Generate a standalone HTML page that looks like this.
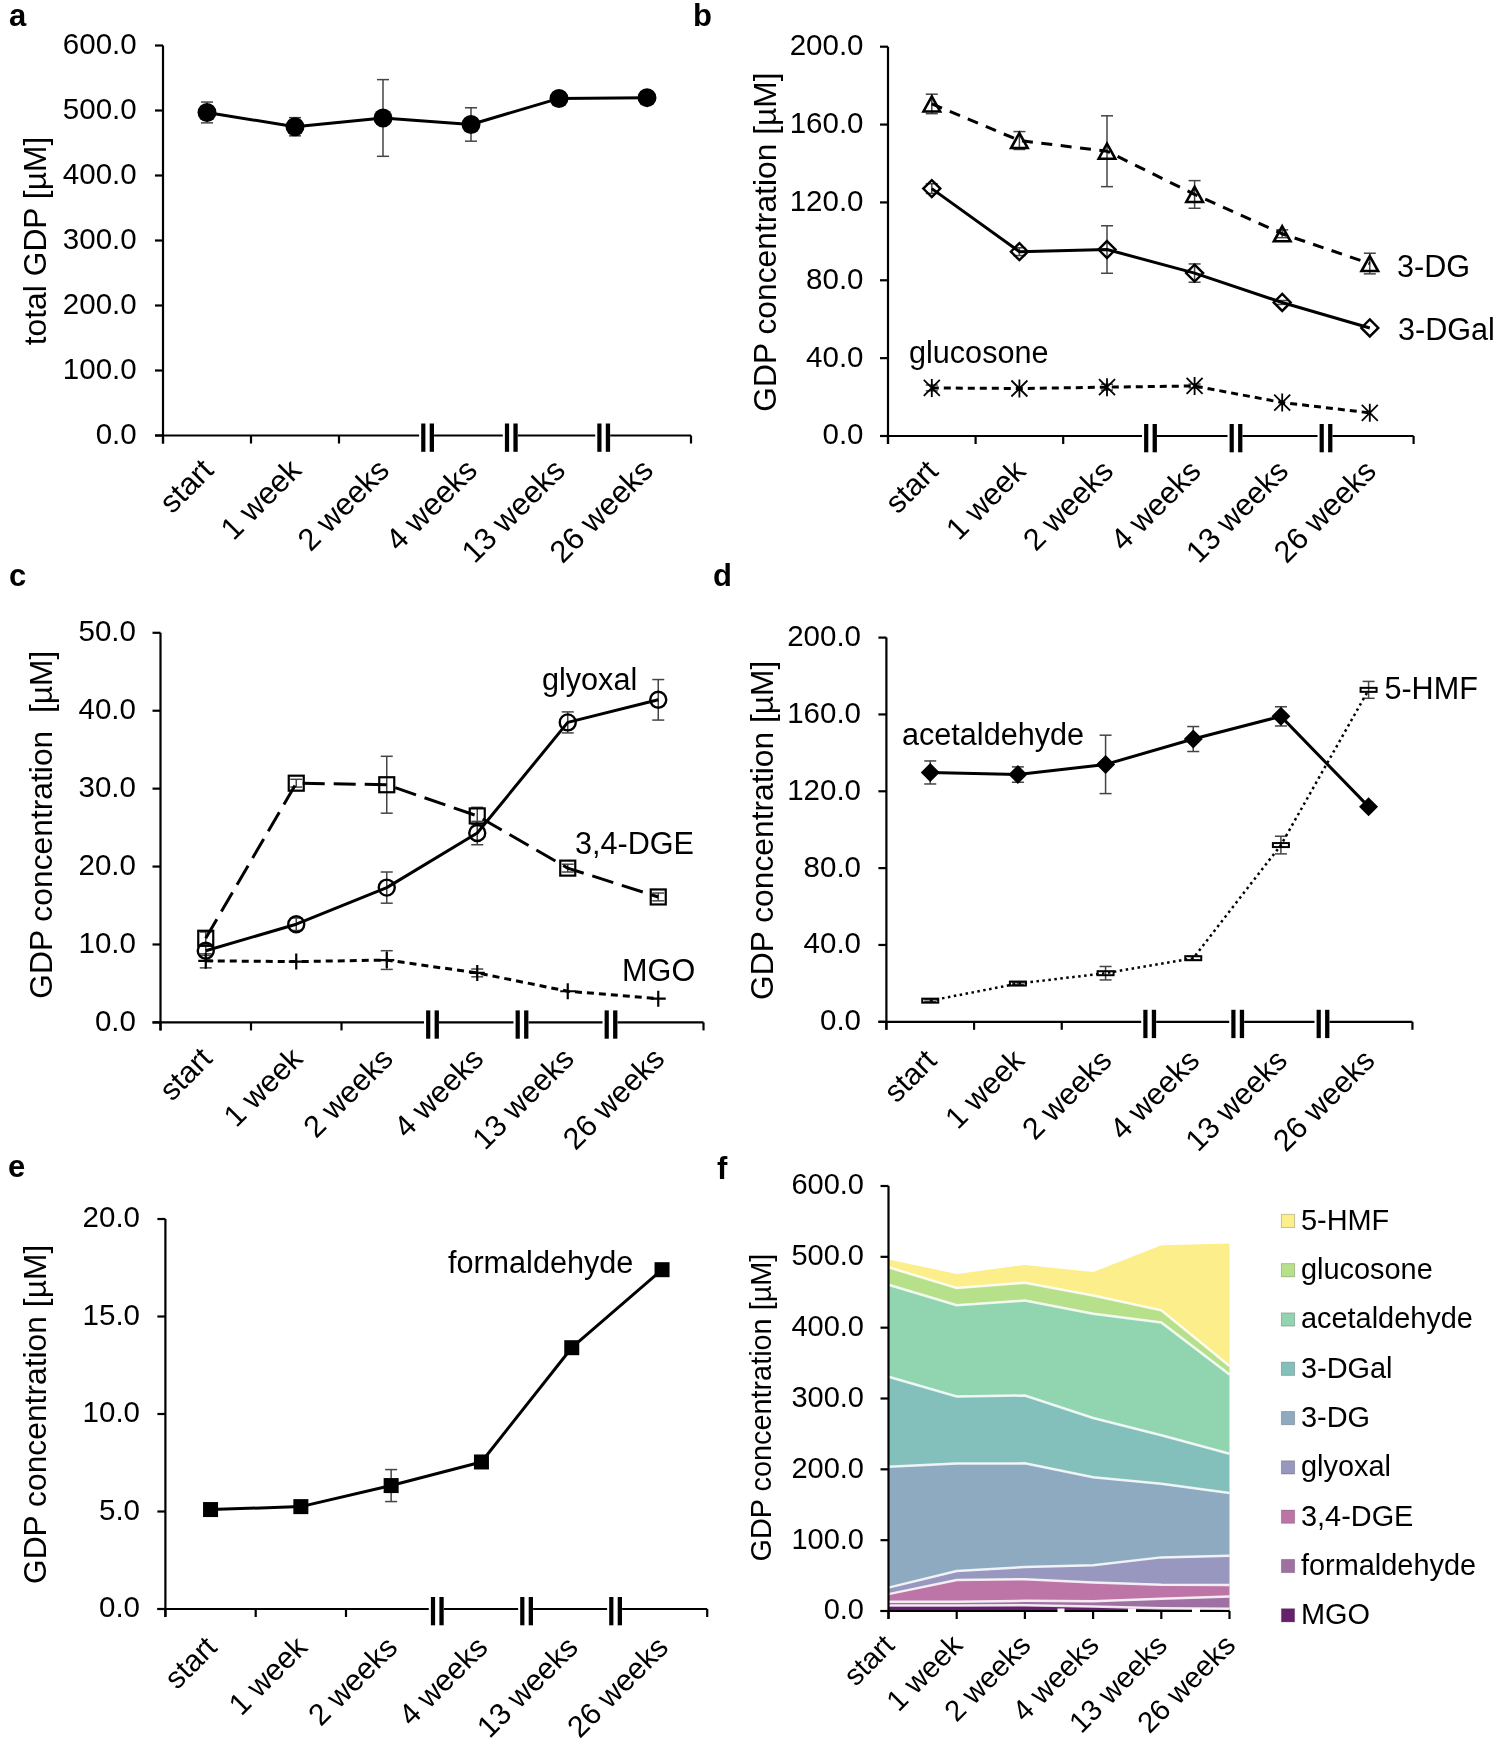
<!DOCTYPE html>
<html><head><meta charset="utf-8"><style>
html,body{margin:0;padding:0;background:#fff;}
svg{display:block;will-change:transform;}
text{font-family:"Liberation Sans",sans-serif;fill:#000;}
.t{font-size:30.6px;}
.tk{font-size:29.5px;}
.xl{font-size:31px;}
.lg{font-size:28.9px;}
.yt{font-size:31.8px;}
.pl{font-size:31px;font-weight:bold;}
.ax{stroke:#000;stroke-width:2.2;}
</style></head><body>
<svg width="1499" height="1744" viewBox="0 0 1499 1744">
<rect width="1499" height="1744" fill="#fff"/>
<line x1="163" y1="45.5" x2="163" y2="443.5" class="ax"/>
<line x1="155" y1="435.5" x2="163" y2="435.5" class="ax"/>
<text x="136.7" y="443.9" text-anchor="end" class="tk" style="font-size:29.5px">0.0</text>
<line x1="155" y1="370.5" x2="163" y2="370.5" class="ax"/>
<text x="136.7" y="378.9" text-anchor="end" class="tk" style="font-size:29.5px">100.0</text>
<line x1="155" y1="305.5" x2="163" y2="305.5" class="ax"/>
<text x="136.7" y="313.9" text-anchor="end" class="tk" style="font-size:29.5px">200.0</text>
<line x1="155" y1="240.5" x2="163" y2="240.5" class="ax"/>
<text x="136.7" y="248.9" text-anchor="end" class="tk" style="font-size:29.5px">300.0</text>
<line x1="155" y1="175.5" x2="163" y2="175.5" class="ax"/>
<text x="136.7" y="183.9" text-anchor="end" class="tk" style="font-size:29.5px">400.0</text>
<line x1="155" y1="110.5" x2="163" y2="110.5" class="ax"/>
<text x="136.7" y="118.9" text-anchor="end" class="tk" style="font-size:29.5px">500.0</text>
<line x1="155" y1="45.5" x2="163" y2="45.5" class="ax"/>
<text x="136.7" y="53.9" text-anchor="end" class="tk" style="font-size:29.5px">600.0</text>
<line x1="155" y1="435.5" x2="691" y2="435.5" class="ax"/>
<line x1="163" y1="435.5" x2="163" y2="443.5" class="ax"/>
<line x1="251" y1="435.5" x2="251" y2="443.5" class="ax"/>
<line x1="339" y1="435.5" x2="339" y2="443.5" class="ax"/>
<line x1="427" y1="435.5" x2="427" y2="443.5" class="ax"/>
<line x1="515" y1="435.5" x2="515" y2="443.5" class="ax"/>
<line x1="603" y1="435.5" x2="603" y2="443.5" class="ax"/>
<line x1="691" y1="435.5" x2="691" y2="443.5" class="ax"/>
<text x="215" y="472" text-anchor="end" transform="rotate(-45 215 472)" class="xl" style="font-size:31px">start</text>
<text x="303" y="472" text-anchor="end" transform="rotate(-45 303 472)" class="xl" style="font-size:31px">1 week</text>
<text x="391" y="472" text-anchor="end" transform="rotate(-45 391 472)" class="xl" style="font-size:31px">2 weeks</text>
<text x="479" y="472" text-anchor="end" transform="rotate(-45 479 472)" class="xl" style="font-size:31px">4 weeks</text>
<text x="567" y="472" text-anchor="end" transform="rotate(-45 567 472)" class="xl" style="font-size:31px">13 weeks</text>
<text x="655" y="472" text-anchor="end" transform="rotate(-45 655 472)" class="xl" style="font-size:31px">26 weeks</text>
<rect x="419.1" y="433.5" width="15" height="12" fill="#fff"/>
<rect x="421.2" y="423.5" width="4.2" height="28.3" fill="#000"/>
<rect x="429.7" y="423.5" width="4.3" height="28.3" fill="#000"/>
<rect x="502.8" y="433.5" width="15" height="12" fill="#fff"/>
<rect x="504.9" y="423.5" width="4.2" height="28.3" fill="#000"/>
<rect x="513.4" y="423.5" width="4.3" height="28.3" fill="#000"/>
<rect x="595.2" y="433.5" width="15" height="12" fill="#fff"/>
<rect x="597.3" y="423.5" width="4.2" height="28.3" fill="#000"/>
<rect x="605.8" y="423.5" width="4.3" height="28.3" fill="#000"/>
<text x="45.9" y="241" text-anchor="middle" transform="rotate(-90 45.9 241)" class="yt" style="font-size:31.8px">total GDP [µM]</text>
<text x="9" y="26" class="pl">a</text>
<line x1="207" y1="102.05" x2="207" y2="122.85" stroke="#444" stroke-width="1.5"/>
<line x1="201" y1="102.05" x2="213" y2="102.05" stroke="#444" stroke-width="1.5"/>
<line x1="201" y1="122.85" x2="213" y2="122.85" stroke="#444" stroke-width="1.5"/>
<line x1="295" y1="117.65" x2="295" y2="135.85" stroke="#444" stroke-width="1.5"/>
<line x1="289" y1="117.65" x2="301" y2="117.65" stroke="#444" stroke-width="1.5"/>
<line x1="289" y1="135.85" x2="301" y2="135.85" stroke="#444" stroke-width="1.5"/>
<line x1="383" y1="79.62" x2="383" y2="156.32" stroke="#444" stroke-width="1.5"/>
<line x1="377" y1="79.62" x2="389" y2="79.62" stroke="#444" stroke-width="1.5"/>
<line x1="377" y1="156.32" x2="389" y2="156.32" stroke="#444" stroke-width="1.5"/>
<line x1="471" y1="107.77" x2="471" y2="141.18" stroke="#444" stroke-width="1.5"/>
<line x1="465" y1="107.77" x2="477" y2="107.77" stroke="#444" stroke-width="1.5"/>
<line x1="465" y1="141.18" x2="477" y2="141.18" stroke="#444" stroke-width="1.5"/>
<polyline points="207,112.45 295,126.75 383,117.97 471,124.47 559,98.41 647,97.63" fill="none" stroke="#000" stroke-width="3" stroke-linejoin="round"/>
<circle cx="207" cy="112.45" r="9.5" fill="#000"/>
<circle cx="295" cy="126.75" r="9.5" fill="#000"/>
<circle cx="383" cy="117.97" r="9.5" fill="#000"/>
<circle cx="471" cy="124.47" r="9.5" fill="#000"/>
<circle cx="559" cy="98.41" r="9.5" fill="#000"/>
<circle cx="647" cy="97.63" r="9.5" fill="#000"/>
<line x1="888" y1="46.7" x2="888" y2="444" class="ax"/>
<line x1="880" y1="436" x2="888" y2="436" class="ax"/>
<text x="863.5" y="444.4" text-anchor="end" class="tk" style="font-size:29.5px">0.0</text>
<line x1="880" y1="358.14" x2="888" y2="358.14" class="ax"/>
<text x="863.5" y="366.54" text-anchor="end" class="tk" style="font-size:29.5px">40.0</text>
<line x1="880" y1="280.28" x2="888" y2="280.28" class="ax"/>
<text x="863.5" y="288.68" text-anchor="end" class="tk" style="font-size:29.5px">80.0</text>
<line x1="880" y1="202.42" x2="888" y2="202.42" class="ax"/>
<text x="863.5" y="210.82" text-anchor="end" class="tk" style="font-size:29.5px">120.0</text>
<line x1="880" y1="124.56" x2="888" y2="124.56" class="ax"/>
<text x="863.5" y="132.96" text-anchor="end" class="tk" style="font-size:29.5px">160.0</text>
<line x1="880" y1="46.7" x2="888" y2="46.7" class="ax"/>
<text x="863.5" y="55.1" text-anchor="end" class="tk" style="font-size:29.5px">200.0</text>
<line x1="880" y1="436" x2="1413.6" y2="436" class="ax"/>
<line x1="888" y1="436" x2="888" y2="444" class="ax"/>
<line x1="975.6" y1="436" x2="975.6" y2="444" class="ax"/>
<line x1="1063.2" y1="436" x2="1063.2" y2="444" class="ax"/>
<line x1="1150.8" y1="436" x2="1150.8" y2="444" class="ax"/>
<line x1="1238.4" y1="436" x2="1238.4" y2="444" class="ax"/>
<line x1="1326" y1="436" x2="1326" y2="444" class="ax"/>
<line x1="1413.6" y1="436" x2="1413.6" y2="444" class="ax"/>
<text x="939.8" y="473" text-anchor="end" transform="rotate(-45 939.8 473)" class="xl" style="font-size:30.6px">start</text>
<text x="1027.4" y="473" text-anchor="end" transform="rotate(-45 1027.4 473)" class="xl" style="font-size:30.6px">1 week</text>
<text x="1115" y="473" text-anchor="end" transform="rotate(-45 1115 473)" class="xl" style="font-size:30.6px">2 weeks</text>
<text x="1202.6" y="473" text-anchor="end" transform="rotate(-45 1202.6 473)" class="xl" style="font-size:30.6px">4 weeks</text>
<text x="1290.2" y="473" text-anchor="end" transform="rotate(-45 1290.2 473)" class="xl" style="font-size:30.6px">13 weeks</text>
<text x="1377.8" y="473" text-anchor="end" transform="rotate(-45 1377.8 473)" class="xl" style="font-size:30.6px">26 weeks</text>
<rect x="1142" y="434" width="15" height="12" fill="#fff"/>
<rect x="1144.1" y="424" width="4.2" height="28.3" fill="#000"/>
<rect x="1152.6" y="424" width="4.3" height="28.3" fill="#000"/>
<rect x="1227.5" y="434" width="15" height="12" fill="#fff"/>
<rect x="1229.6" y="424" width="4.2" height="28.3" fill="#000"/>
<rect x="1238.1" y="424" width="4.3" height="28.3" fill="#000"/>
<rect x="1317.5" y="434" width="15" height="12" fill="#fff"/>
<rect x="1319.6" y="424" width="4.2" height="28.3" fill="#000"/>
<rect x="1328.1" y="424" width="4.3" height="28.3" fill="#000"/>
<text x="775.8" y="242" text-anchor="middle" transform="rotate(-90 775.8 242)" class="yt" style="font-size:31.8px">GDP concentration [µM]</text>
<text x="693" y="26" class="pl">b</text>
<line x1="931.8" y1="94.19" x2="931.8" y2="113.66" stroke="#444" stroke-width="1.5"/>
<line x1="925.8" y1="94.19" x2="937.8" y2="94.19" stroke="#444" stroke-width="1.5"/>
<line x1="925.8" y1="113.66" x2="937.8" y2="113.66" stroke="#444" stroke-width="1.5"/>
<line x1="1019.4" y1="131.57" x2="1019.4" y2="149.48" stroke="#444" stroke-width="1.5"/>
<line x1="1013.4" y1="131.57" x2="1025.4" y2="131.57" stroke="#444" stroke-width="1.5"/>
<line x1="1013.4" y1="149.48" x2="1025.4" y2="149.48" stroke="#444" stroke-width="1.5"/>
<line x1="1107" y1="115.8" x2="1107" y2="186.65" stroke="#444" stroke-width="1.5"/>
<line x1="1101" y1="115.8" x2="1113" y2="115.8" stroke="#444" stroke-width="1.5"/>
<line x1="1101" y1="186.65" x2="1113" y2="186.65" stroke="#444" stroke-width="1.5"/>
<line x1="1194.6" y1="180.62" x2="1194.6" y2="208.26" stroke="#444" stroke-width="1.5"/>
<line x1="1188.6" y1="180.62" x2="1200.6" y2="180.62" stroke="#444" stroke-width="1.5"/>
<line x1="1188.6" y1="208.26" x2="1200.6" y2="208.26" stroke="#444" stroke-width="1.5"/>
<line x1="1282.2" y1="229.87" x2="1282.2" y2="237.65" stroke="#444" stroke-width="1.5"/>
<line x1="1276.2" y1="229.87" x2="1288.2" y2="229.87" stroke="#444" stroke-width="1.5"/>
<line x1="1276.2" y1="237.65" x2="1288.2" y2="237.65" stroke="#444" stroke-width="1.5"/>
<line x1="1369.8" y1="253.22" x2="1369.8" y2="273.86" stroke="#444" stroke-width="1.5"/>
<line x1="1363.8" y1="253.22" x2="1375.8" y2="253.22" stroke="#444" stroke-width="1.5"/>
<line x1="1363.8" y1="273.86" x2="1375.8" y2="273.86" stroke="#444" stroke-width="1.5"/>
<line x1="931.8" y1="183.73" x2="931.8" y2="193.47" stroke="#444" stroke-width="1.5"/>
<line x1="925.8" y1="183.73" x2="937.8" y2="183.73" stroke="#444" stroke-width="1.5"/>
<line x1="925.8" y1="193.47" x2="937.8" y2="193.47" stroke="#444" stroke-width="1.5"/>
<line x1="1019.4" y1="247.77" x2="1019.4" y2="255.56" stroke="#444" stroke-width="1.5"/>
<line x1="1013.4" y1="247.77" x2="1025.4" y2="247.77" stroke="#444" stroke-width="1.5"/>
<line x1="1013.4" y1="255.56" x2="1025.4" y2="255.56" stroke="#444" stroke-width="1.5"/>
<line x1="1107" y1="225.78" x2="1107" y2="273.27" stroke="#444" stroke-width="1.5"/>
<line x1="1101" y1="225.78" x2="1113" y2="225.78" stroke="#444" stroke-width="1.5"/>
<line x1="1101" y1="273.27" x2="1113" y2="273.27" stroke="#444" stroke-width="1.5"/>
<line x1="1194.6" y1="263.93" x2="1194.6" y2="282.23" stroke="#444" stroke-width="1.5"/>
<line x1="1188.6" y1="263.93" x2="1200.6" y2="263.93" stroke="#444" stroke-width="1.5"/>
<line x1="1188.6" y1="282.23" x2="1200.6" y2="282.23" stroke="#444" stroke-width="1.5"/>
<line x1="1282.2" y1="300.52" x2="1282.2" y2="304.42" stroke="#444" stroke-width="1.5"/>
<line x1="1276.2" y1="300.52" x2="1288.2" y2="300.52" stroke="#444" stroke-width="1.5"/>
<line x1="1276.2" y1="304.42" x2="1288.2" y2="304.42" stroke="#444" stroke-width="1.5"/>
<line x1="931.8" y1="385" x2="931.8" y2="390.84" stroke="#444" stroke-width="1.5"/>
<line x1="925.8" y1="385" x2="937.8" y2="385" stroke="#444" stroke-width="1.5"/>
<line x1="925.8" y1="390.84" x2="937.8" y2="390.84" stroke="#444" stroke-width="1.5"/>
<line x1="1107" y1="384.22" x2="1107" y2="390.06" stroke="#444" stroke-width="1.5"/>
<line x1="1101" y1="384.22" x2="1113" y2="384.22" stroke="#444" stroke-width="1.5"/>
<line x1="1101" y1="390.06" x2="1113" y2="390.06" stroke="#444" stroke-width="1.5"/>
<line x1="1194.6" y1="384.03" x2="1194.6" y2="387.92" stroke="#444" stroke-width="1.5"/>
<line x1="1188.6" y1="384.03" x2="1200.6" y2="384.03" stroke="#444" stroke-width="1.5"/>
<line x1="1188.6" y1="387.92" x2="1200.6" y2="387.92" stroke="#444" stroke-width="1.5"/>
<polyline points="931.8,103.93 1019.4,140.52 1107,151.23 1194.6,194.44 1282.2,233.76 1369.8,263.54" fill="none" stroke="#000" stroke-width="3" stroke-dasharray="11 8.5" stroke-linejoin="round"/>
<polyline points="931.8,188.6 1019.4,251.67 1107,249.53 1194.6,273.08 1282.2,302.47 1369.8,327.97" fill="none" stroke="#000" stroke-width="3" stroke-linejoin="round"/>
<polyline points="931.8,387.92 1019.4,388.51 1107,387.14 1194.6,385.97 1282.2,402.52 1369.8,412.84" fill="none" stroke="#000" stroke-width="3" stroke-dasharray="7 5" stroke-linejoin="round"/>
<path d="M931.8,96.43 L940.1,111.43 L923.5,111.43 Z" fill="none" stroke="#000" stroke-width="2.6" stroke-linejoin="miter"/>
<path d="M1019.4,133.02 L1027.7,148.02 L1011.1,148.02 Z" fill="none" stroke="#000" stroke-width="2.6" stroke-linejoin="miter"/>
<path d="M1107,143.73 L1115.3,158.73 L1098.7,158.73 Z" fill="none" stroke="#000" stroke-width="2.6" stroke-linejoin="miter"/>
<path d="M1194.6,186.94 L1202.9,201.94 L1186.3,201.94 Z" fill="none" stroke="#000" stroke-width="2.6" stroke-linejoin="miter"/>
<path d="M1282.2,226.26 L1290.5,241.26 L1273.9,241.26 Z" fill="none" stroke="#000" stroke-width="2.6" stroke-linejoin="miter"/>
<path d="M1369.8,256.04 L1378.1,271.04 L1361.5,271.04 Z" fill="none" stroke="#000" stroke-width="2.6" stroke-linejoin="miter"/>
<path d="M931.8,180.1 L940.3,188.6 L931.8,197.1 L923.3,188.6 Z" fill="none" stroke="#000" stroke-width="2.4"/>
<path d="M1019.4,243.17 L1027.9,251.67 L1019.4,260.17 L1010.9,251.67 Z" fill="none" stroke="#000" stroke-width="2.4"/>
<path d="M1107,241.03 L1115.5,249.53 L1107,258.03 L1098.5,249.53 Z" fill="none" stroke="#000" stroke-width="2.4"/>
<path d="M1194.6,264.58 L1203.1,273.08 L1194.6,281.58 L1186.1,273.08 Z" fill="none" stroke="#000" stroke-width="2.4"/>
<path d="M1282.2,293.97 L1290.7,302.47 L1282.2,310.97 L1273.7,302.47 Z" fill="none" stroke="#000" stroke-width="2.4"/>
<path d="M1369.8,319.47 L1378.3,327.97 L1369.8,336.47 L1361.3,327.97 Z" fill="none" stroke="#000" stroke-width="2.4"/>
<path d="M923.8,379.92 L939.8,395.92 M939.8,379.92 L923.8,395.92 M931.8,378.92 L931.8,396.92" stroke="#000" stroke-width="1.8"/>
<path d="M1011.4,380.51 L1027.4,396.51 M1027.4,380.51 L1011.4,396.51 M1019.4,379.51 L1019.4,397.51" stroke="#000" stroke-width="1.8"/>
<path d="M1099,379.14 L1115,395.14 M1115,379.14 L1099,395.14 M1107,378.14 L1107,396.14" stroke="#000" stroke-width="1.8"/>
<path d="M1186.6,377.97 L1202.6,393.97 M1202.6,377.97 L1186.6,393.97 M1194.6,376.97 L1194.6,394.97" stroke="#000" stroke-width="1.8"/>
<path d="M1274.2,394.52 L1290.2,410.52 M1290.2,394.52 L1274.2,410.52 M1282.2,393.52 L1282.2,411.52" stroke="#000" stroke-width="1.8"/>
<path d="M1361.8,404.84 L1377.8,420.84 M1377.8,404.84 L1361.8,420.84 M1369.8,403.84 L1369.8,421.84" stroke="#000" stroke-width="1.8"/>
<text x="1397" y="276.5" text-anchor="start" class="t">3-DG</text>
<text x="1398" y="340.3" text-anchor="start" class="t">3-DGal</text>
<text x="909" y="363.4" text-anchor="start" class="t">glucosone</text>
<line x1="160.5" y1="632.8" x2="160.5" y2="1030.4" class="ax"/>
<line x1="152.5" y1="1022.4" x2="160.5" y2="1022.4" class="ax"/>
<text x="135.9" y="1030.8" text-anchor="end" class="tk" style="font-size:29.5px">0.0</text>
<line x1="152.5" y1="944.48" x2="160.5" y2="944.48" class="ax"/>
<text x="135.9" y="952.88" text-anchor="end" class="tk" style="font-size:29.5px">10.0</text>
<line x1="152.5" y1="866.56" x2="160.5" y2="866.56" class="ax"/>
<text x="135.9" y="874.96" text-anchor="end" class="tk" style="font-size:29.5px">20.0</text>
<line x1="152.5" y1="788.64" x2="160.5" y2="788.64" class="ax"/>
<text x="135.9" y="797.04" text-anchor="end" class="tk" style="font-size:29.5px">30.0</text>
<line x1="152.5" y1="710.72" x2="160.5" y2="710.72" class="ax"/>
<text x="135.9" y="719.12" text-anchor="end" class="tk" style="font-size:29.5px">40.0</text>
<line x1="152.5" y1="632.8" x2="160.5" y2="632.8" class="ax"/>
<text x="135.9" y="641.2" text-anchor="end" class="tk" style="font-size:29.5px">50.0</text>
<line x1="152.5" y1="1022.4" x2="703.5" y2="1022.4" class="ax"/>
<line x1="160.5" y1="1022.4" x2="160.5" y2="1030.4" class="ax"/>
<line x1="251" y1="1022.4" x2="251" y2="1030.4" class="ax"/>
<line x1="341.5" y1="1022.4" x2="341.5" y2="1030.4" class="ax"/>
<line x1="432" y1="1022.4" x2="432" y2="1030.4" class="ax"/>
<line x1="522.5" y1="1022.4" x2="522.5" y2="1030.4" class="ax"/>
<line x1="613" y1="1022.4" x2="613" y2="1030.4" class="ax"/>
<line x1="703.5" y1="1022.4" x2="703.5" y2="1030.4" class="ax"/>
<text x="213.75" y="1060.4" text-anchor="end" transform="rotate(-45 213.75 1060.4)" class="xl" style="font-size:30.4px">start</text>
<text x="304.25" y="1060.4" text-anchor="end" transform="rotate(-45 304.25 1060.4)" class="xl" style="font-size:30.4px">1 week</text>
<text x="394.75" y="1060.4" text-anchor="end" transform="rotate(-45 394.75 1060.4)" class="xl" style="font-size:30.4px">2 weeks</text>
<text x="485.25" y="1060.4" text-anchor="end" transform="rotate(-45 485.25 1060.4)" class="xl" style="font-size:30.4px">4 weeks</text>
<text x="575.75" y="1060.4" text-anchor="end" transform="rotate(-45 575.75 1060.4)" class="xl" style="font-size:30.4px">13 weeks</text>
<text x="666.25" y="1060.4" text-anchor="end" transform="rotate(-45 666.25 1060.4)" class="xl" style="font-size:30.4px">26 weeks</text>
<rect x="424" y="1020.4" width="15" height="12" fill="#fff"/>
<rect x="426.1" y="1010.4" width="4.2" height="28.3" fill="#000"/>
<rect x="434.6" y="1010.4" width="4.3" height="28.3" fill="#000"/>
<rect x="513.5" y="1020.4" width="15" height="12" fill="#fff"/>
<rect x="515.6" y="1010.4" width="4.2" height="28.3" fill="#000"/>
<rect x="524.1" y="1010.4" width="4.3" height="28.3" fill="#000"/>
<rect x="602.5" y="1020.4" width="15" height="12" fill="#fff"/>
<rect x="604.6" y="1010.4" width="4.2" height="28.3" fill="#000"/>
<rect x="613.1" y="1010.4" width="4.3" height="28.3" fill="#000"/>
<text x="51.8" y="824.7" text-anchor="middle" transform="rotate(-90 51.8 824.7)" class="yt" style="font-size:31.8px">GDP concentration&#160;&#160;[µM]</text>
<text x="9" y="586" class="pl">c</text>
<line x1="205.75" y1="946.04" x2="205.75" y2="955.39" stroke="#444" stroke-width="1.5"/>
<line x1="199.75" y1="946.04" x2="211.75" y2="946.04" stroke="#444" stroke-width="1.5"/>
<line x1="199.75" y1="955.39" x2="211.75" y2="955.39" stroke="#444" stroke-width="1.5"/>
<line x1="296.25" y1="917.99" x2="296.25" y2="930.45" stroke="#444" stroke-width="1.5"/>
<line x1="290.25" y1="917.99" x2="302.25" y2="917.99" stroke="#444" stroke-width="1.5"/>
<line x1="290.25" y1="930.45" x2="302.25" y2="930.45" stroke="#444" stroke-width="1.5"/>
<line x1="386.75" y1="872.01" x2="386.75" y2="903.18" stroke="#444" stroke-width="1.5"/>
<line x1="380.75" y1="872.01" x2="392.75" y2="872.01" stroke="#444" stroke-width="1.5"/>
<line x1="380.75" y1="903.18" x2="392.75" y2="903.18" stroke="#444" stroke-width="1.5"/>
<line x1="477.25" y1="821.37" x2="477.25" y2="844.74" stroke="#444" stroke-width="1.5"/>
<line x1="471.25" y1="821.37" x2="483.25" y2="821.37" stroke="#444" stroke-width="1.5"/>
<line x1="471.25" y1="844.74" x2="483.25" y2="844.74" stroke="#444" stroke-width="1.5"/>
<line x1="567.75" y1="711.89" x2="567.75" y2="732.93" stroke="#444" stroke-width="1.5"/>
<line x1="561.75" y1="711.89" x2="573.75" y2="711.89" stroke="#444" stroke-width="1.5"/>
<line x1="561.75" y1="732.93" x2="573.75" y2="732.93" stroke="#444" stroke-width="1.5"/>
<line x1="658.25" y1="679.55" x2="658.25" y2="720.07" stroke="#444" stroke-width="1.5"/>
<line x1="652.25" y1="679.55" x2="664.25" y2="679.55" stroke="#444" stroke-width="1.5"/>
<line x1="652.25" y1="720.07" x2="664.25" y2="720.07" stroke="#444" stroke-width="1.5"/>
<line x1="205.75" y1="932.01" x2="205.75" y2="944.48" stroke="#444" stroke-width="1.5"/>
<line x1="199.75" y1="932.01" x2="211.75" y2="932.01" stroke="#444" stroke-width="1.5"/>
<line x1="199.75" y1="944.48" x2="211.75" y2="944.48" stroke="#444" stroke-width="1.5"/>
<line x1="296.25" y1="779.29" x2="296.25" y2="787.08" stroke="#444" stroke-width="1.5"/>
<line x1="290.25" y1="779.29" x2="302.25" y2="779.29" stroke="#444" stroke-width="1.5"/>
<line x1="290.25" y1="787.08" x2="302.25" y2="787.08" stroke="#444" stroke-width="1.5"/>
<line x1="386.75" y1="756.3" x2="386.75" y2="813.18" stroke="#444" stroke-width="1.5"/>
<line x1="380.75" y1="756.3" x2="392.75" y2="756.3" stroke="#444" stroke-width="1.5"/>
<line x1="380.75" y1="813.18" x2="392.75" y2="813.18" stroke="#444" stroke-width="1.5"/>
<line x1="477.25" y1="807.34" x2="477.25" y2="824.48" stroke="#444" stroke-width="1.5"/>
<line x1="471.25" y1="807.34" x2="483.25" y2="807.34" stroke="#444" stroke-width="1.5"/>
<line x1="471.25" y1="824.48" x2="483.25" y2="824.48" stroke="#444" stroke-width="1.5"/>
<line x1="567.75" y1="864.22" x2="567.75" y2="872.01" stroke="#444" stroke-width="1.5"/>
<line x1="561.75" y1="864.22" x2="573.75" y2="864.22" stroke="#444" stroke-width="1.5"/>
<line x1="561.75" y1="872.01" x2="573.75" y2="872.01" stroke="#444" stroke-width="1.5"/>
<line x1="658.25" y1="893.05" x2="658.25" y2="900.84" stroke="#444" stroke-width="1.5"/>
<line x1="652.25" y1="893.05" x2="664.25" y2="893.05" stroke="#444" stroke-width="1.5"/>
<line x1="652.25" y1="900.84" x2="664.25" y2="900.84" stroke="#444" stroke-width="1.5"/>
<line x1="205.75" y1="953.83" x2="205.75" y2="967.86" stroke="#444" stroke-width="1.5"/>
<line x1="199.75" y1="953.83" x2="211.75" y2="953.83" stroke="#444" stroke-width="1.5"/>
<line x1="199.75" y1="967.86" x2="211.75" y2="967.86" stroke="#444" stroke-width="1.5"/>
<line x1="386.75" y1="950.71" x2="386.75" y2="969.41" stroke="#444" stroke-width="1.5"/>
<line x1="380.75" y1="950.71" x2="392.75" y2="950.71" stroke="#444" stroke-width="1.5"/>
<line x1="380.75" y1="969.41" x2="392.75" y2="969.41" stroke="#444" stroke-width="1.5"/>
<line x1="477.25" y1="969.02" x2="477.25" y2="976.82" stroke="#444" stroke-width="1.5"/>
<line x1="471.25" y1="969.02" x2="483.25" y2="969.02" stroke="#444" stroke-width="1.5"/>
<line x1="471.25" y1="976.82" x2="483.25" y2="976.82" stroke="#444" stroke-width="1.5"/>
<polyline points="205.75,950.71 296.25,924.22 386.75,887.6 477.25,833.05 567.75,722.41 658.25,699.81" fill="none" stroke="#000" stroke-width="3" stroke-linejoin="round"/>
<polyline points="205.75,938.25 296.25,783.19 386.75,784.74 477.25,815.91 567.75,868.12 658.25,896.95" fill="none" stroke="#000" stroke-width="3" stroke-dasharray="22 9" stroke-linejoin="round"/>
<polyline points="205.75,960.84 296.25,961.62 386.75,960.06 477.25,972.92 567.75,991.23 658.25,998.63" fill="none" stroke="#000" stroke-width="3" stroke-dasharray="7 5" stroke-linejoin="round"/>
<circle cx="205.75" cy="950.71" r="8" fill="none" stroke="#000" stroke-width="2.4"/>
<circle cx="296.25" cy="924.22" r="8" fill="none" stroke="#000" stroke-width="2.4"/>
<circle cx="386.75" cy="887.6" r="8" fill="none" stroke="#000" stroke-width="2.4"/>
<circle cx="477.25" cy="833.05" r="8" fill="none" stroke="#000" stroke-width="2.4"/>
<circle cx="567.75" cy="722.41" r="8" fill="none" stroke="#000" stroke-width="2.4"/>
<circle cx="658.25" cy="699.81" r="8" fill="none" stroke="#000" stroke-width="2.4"/>
<rect x="198.25" y="930.75" width="15" height="15" fill="none" stroke="#000" stroke-width="2.2"/>
<rect x="288.75" y="775.69" width="15" height="15" fill="none" stroke="#000" stroke-width="2.2"/>
<rect x="379.25" y="777.24" width="15" height="15" fill="none" stroke="#000" stroke-width="2.2"/>
<rect x="469.75" y="808.41" width="15" height="15" fill="none" stroke="#000" stroke-width="2.2"/>
<rect x="560.25" y="860.62" width="15" height="15" fill="none" stroke="#000" stroke-width="2.2"/>
<rect x="650.75" y="889.45" width="15" height="15" fill="none" stroke="#000" stroke-width="2.2"/>
<path d="M198.25,960.84 L213.25,960.84 M205.75,952.84 L205.75,968.84" stroke="#000" stroke-width="2.2"/>
<path d="M288.75,961.62 L303.75,961.62 M296.25,953.62 L296.25,969.62" stroke="#000" stroke-width="2.2"/>
<path d="M379.25,960.06 L394.25,960.06 M386.75,952.06 L386.75,968.06" stroke="#000" stroke-width="2.2"/>
<path d="M469.75,972.92 L484.75,972.92 M477.25,964.92 L477.25,980.92" stroke="#000" stroke-width="2.2"/>
<path d="M560.25,991.23 L575.25,991.23 M567.75,983.23 L567.75,999.23" stroke="#000" stroke-width="2.2"/>
<path d="M650.75,998.63 L665.75,998.63 M658.25,990.63 L658.25,1006.63" stroke="#000" stroke-width="2.2"/>
<text x="542" y="690" text-anchor="start" class="t">glyoxal</text>
<text x="575" y="854" text-anchor="start" class="t">3,4-DGE</text>
<text x="622.1" y="981" text-anchor="start" class="t">MGO</text>
<line x1="886.4" y1="637.6" x2="886.4" y2="1029.8" class="ax"/>
<line x1="878.4" y1="1021.8" x2="886.4" y2="1021.8" class="ax"/>
<text x="861" y="1030.2" text-anchor="end" class="tk" style="font-size:29.5px">0.0</text>
<line x1="878.4" y1="944.96" x2="886.4" y2="944.96" class="ax"/>
<text x="861" y="953.36" text-anchor="end" class="tk" style="font-size:29.5px">40.0</text>
<line x1="878.4" y1="868.12" x2="886.4" y2="868.12" class="ax"/>
<text x="861" y="876.52" text-anchor="end" class="tk" style="font-size:29.5px">80.0</text>
<line x1="878.4" y1="791.28" x2="886.4" y2="791.28" class="ax"/>
<text x="861" y="799.68" text-anchor="end" class="tk" style="font-size:29.5px">120.0</text>
<line x1="878.4" y1="714.44" x2="886.4" y2="714.44" class="ax"/>
<text x="861" y="722.84" text-anchor="end" class="tk" style="font-size:29.5px">160.0</text>
<line x1="878.4" y1="637.6" x2="886.4" y2="637.6" class="ax"/>
<text x="861" y="646" text-anchor="end" class="tk" style="font-size:29.5px">200.0</text>
<line x1="878.4" y1="1021.8" x2="1412.42" y2="1021.8" class="ax"/>
<line x1="886.4" y1="1021.8" x2="886.4" y2="1029.8" class="ax"/>
<line x1="974.07" y1="1021.8" x2="974.07" y2="1029.8" class="ax"/>
<line x1="1061.74" y1="1021.8" x2="1061.74" y2="1029.8" class="ax"/>
<line x1="1149.41" y1="1021.8" x2="1149.41" y2="1029.8" class="ax"/>
<line x1="1237.08" y1="1021.8" x2="1237.08" y2="1029.8" class="ax"/>
<line x1="1324.75" y1="1021.8" x2="1324.75" y2="1029.8" class="ax"/>
<line x1="1412.42" y1="1021.8" x2="1412.42" y2="1029.8" class="ax"/>
<text x="938.24" y="1062.3" text-anchor="end" transform="rotate(-45 938.24 1062.3)" class="xl" style="font-size:30.4px">start</text>
<text x="1025.9" y="1062.3" text-anchor="end" transform="rotate(-45 1025.9 1062.3)" class="xl" style="font-size:30.4px">1 week</text>
<text x="1113.58" y="1062.3" text-anchor="end" transform="rotate(-45 1113.58 1062.3)" class="xl" style="font-size:30.4px">2 weeks</text>
<text x="1201.24" y="1062.3" text-anchor="end" transform="rotate(-45 1201.24 1062.3)" class="xl" style="font-size:30.4px">4 weeks</text>
<text x="1288.91" y="1062.3" text-anchor="end" transform="rotate(-45 1288.91 1062.3)" class="xl" style="font-size:30.4px">13 weeks</text>
<text x="1376.59" y="1062.3" text-anchor="end" transform="rotate(-45 1376.59 1062.3)" class="xl" style="font-size:30.4px">26 weeks</text>
<rect x="1141.2" y="1019.8" width="15" height="12" fill="#fff"/>
<rect x="1143.3" y="1009.8" width="4.2" height="28.3" fill="#000"/>
<rect x="1151.8" y="1009.8" width="4.3" height="28.3" fill="#000"/>
<rect x="1229.2" y="1019.8" width="15" height="12" fill="#fff"/>
<rect x="1231.3" y="1009.8" width="4.2" height="28.3" fill="#000"/>
<rect x="1239.8" y="1009.8" width="4.3" height="28.3" fill="#000"/>
<rect x="1314.5" y="1019.8" width="15" height="12" fill="#fff"/>
<rect x="1316.6" y="1009.8" width="4.2" height="28.3" fill="#000"/>
<rect x="1325.1" y="1009.8" width="4.3" height="28.3" fill="#000"/>
<text x="773.4" y="830.3" text-anchor="middle" transform="rotate(-90 773.4 830.3)" class="yt" style="font-size:31.8px">GDP concentration [µM]</text>
<text x="713" y="586" class="pl">d</text>
<line x1="930.24" y1="760.93" x2="930.24" y2="783.98" stroke="#444" stroke-width="1.5"/>
<line x1="924.24" y1="760.93" x2="936.24" y2="760.93" stroke="#444" stroke-width="1.5"/>
<line x1="924.24" y1="783.98" x2="936.24" y2="783.98" stroke="#444" stroke-width="1.5"/>
<line x1="1017.9" y1="766.88" x2="1017.9" y2="782.25" stroke="#444" stroke-width="1.5"/>
<line x1="1011.9" y1="766.88" x2="1023.9" y2="766.88" stroke="#444" stroke-width="1.5"/>
<line x1="1011.9" y1="782.25" x2="1023.9" y2="782.25" stroke="#444" stroke-width="1.5"/>
<line x1="1105.58" y1="735.19" x2="1105.58" y2="793.59" stroke="#444" stroke-width="1.5"/>
<line x1="1099.58" y1="735.19" x2="1111.58" y2="735.19" stroke="#444" stroke-width="1.5"/>
<line x1="1099.58" y1="793.59" x2="1111.58" y2="793.59" stroke="#444" stroke-width="1.5"/>
<line x1="1193.24" y1="726.54" x2="1193.24" y2="751.52" stroke="#444" stroke-width="1.5"/>
<line x1="1187.24" y1="726.54" x2="1199.24" y2="726.54" stroke="#444" stroke-width="1.5"/>
<line x1="1187.24" y1="751.52" x2="1199.24" y2="751.52" stroke="#444" stroke-width="1.5"/>
<line x1="1280.91" y1="706.76" x2="1280.91" y2="725.97" stroke="#444" stroke-width="1.5"/>
<line x1="1274.91" y1="706.76" x2="1286.91" y2="706.76" stroke="#444" stroke-width="1.5"/>
<line x1="1274.91" y1="725.97" x2="1286.91" y2="725.97" stroke="#444" stroke-width="1.5"/>
<line x1="1368.59" y1="804.73" x2="1368.59" y2="808.57" stroke="#444" stroke-width="1.5"/>
<line x1="1362.59" y1="804.73" x2="1374.59" y2="804.73" stroke="#444" stroke-width="1.5"/>
<line x1="1362.59" y1="808.57" x2="1374.59" y2="808.57" stroke="#444" stroke-width="1.5"/>
<line x1="930.24" y1="999.71" x2="930.24" y2="1001.63" stroke="#444" stroke-width="1.5"/>
<line x1="924.24" y1="999.71" x2="936.24" y2="999.71" stroke="#444" stroke-width="1.5"/>
<line x1="924.24" y1="1001.63" x2="936.24" y2="1001.63" stroke="#444" stroke-width="1.5"/>
<line x1="1017.9" y1="982.61" x2="1017.9" y2="984.53" stroke="#444" stroke-width="1.5"/>
<line x1="1011.9" y1="982.61" x2="1023.9" y2="982.61" stroke="#444" stroke-width="1.5"/>
<line x1="1011.9" y1="984.53" x2="1023.9" y2="984.53" stroke="#444" stroke-width="1.5"/>
<line x1="1105.58" y1="966.48" x2="1105.58" y2="979.92" stroke="#444" stroke-width="1.5"/>
<line x1="1099.58" y1="966.48" x2="1111.58" y2="966.48" stroke="#444" stroke-width="1.5"/>
<line x1="1099.58" y1="979.92" x2="1111.58" y2="979.92" stroke="#444" stroke-width="1.5"/>
<line x1="1193.24" y1="956.29" x2="1193.24" y2="960.14" stroke="#444" stroke-width="1.5"/>
<line x1="1187.24" y1="956.29" x2="1199.24" y2="956.29" stroke="#444" stroke-width="1.5"/>
<line x1="1187.24" y1="960.14" x2="1199.24" y2="960.14" stroke="#444" stroke-width="1.5"/>
<line x1="1280.91" y1="836.23" x2="1280.91" y2="853.9" stroke="#444" stroke-width="1.5"/>
<line x1="1274.91" y1="836.23" x2="1286.91" y2="836.23" stroke="#444" stroke-width="1.5"/>
<line x1="1274.91" y1="853.9" x2="1286.91" y2="853.9" stroke="#444" stroke-width="1.5"/>
<line x1="1368.59" y1="681.4" x2="1368.59" y2="698.3" stroke="#444" stroke-width="1.5"/>
<line x1="1362.59" y1="681.4" x2="1374.59" y2="681.4" stroke="#444" stroke-width="1.5"/>
<line x1="1362.59" y1="698.3" x2="1374.59" y2="698.3" stroke="#444" stroke-width="1.5"/>
<polyline points="930.24,772.45 1017.9,774.57 1105.58,764.39 1193.24,739.03 1280.91,716.36 1368.59,806.65" fill="none" stroke="#000" stroke-width="3" stroke-linejoin="round"/>
<polyline points="930.24,1000.67 1017.9,983.57 1105.58,973.2 1193.24,958.21 1280.91,845.07 1368.59,689.85" fill="none" stroke="#000" stroke-width="2.5" stroke-dasharray="2.5 3.5" stroke-linejoin="round"/>
<path d="M930.24,762.95 L939.74,772.45 L930.24,781.95 L920.74,772.45 Z" fill="#000"/>
<path d="M1017.9,765.07 L1027.4,774.57 L1017.9,784.07 L1008.4,774.57 Z" fill="#000"/>
<path d="M1105.58,754.89 L1115.08,764.39 L1105.58,773.89 L1096.08,764.39 Z" fill="#000"/>
<path d="M1193.24,729.53 L1202.74,739.03 L1193.24,748.53 L1183.74,739.03 Z" fill="#000"/>
<path d="M1280.91,706.86 L1290.41,716.36 L1280.91,725.86 L1271.41,716.36 Z" fill="#000"/>
<path d="M1368.59,797.15 L1378.09,806.65 L1368.59,816.15 L1359.09,806.65 Z" fill="#000"/>
<rect x="922.24" y="998.67" width="16" height="4" fill="none" stroke="#000" stroke-width="2"/>
<rect x="1009.9" y="981.57" width="16" height="4" fill="none" stroke="#000" stroke-width="2"/>
<rect x="1097.58" y="971.2" width="16" height="4" fill="none" stroke="#000" stroke-width="2"/>
<rect x="1185.24" y="956.21" width="16" height="4" fill="none" stroke="#000" stroke-width="2"/>
<rect x="1272.91" y="843.07" width="16" height="4" fill="none" stroke="#000" stroke-width="2"/>
<rect x="1360.59" y="687.85" width="16" height="4" fill="none" stroke="#000" stroke-width="2"/>
<text x="902" y="745" text-anchor="start" class="t">acetaldehyde</text>
<text x="1384.4" y="699" text-anchor="start" class="t">5-HMF</text>
<line x1="165.4" y1="1219" x2="165.4" y2="1617" class="ax"/>
<line x1="157.4" y1="1609" x2="165.4" y2="1609" class="ax"/>
<text x="140" y="1617.4" text-anchor="end" class="tk" style="font-size:29.5px">0.0</text>
<line x1="157.4" y1="1511.5" x2="165.4" y2="1511.5" class="ax"/>
<text x="140" y="1519.9" text-anchor="end" class="tk" style="font-size:29.5px">5.0</text>
<line x1="157.4" y1="1414" x2="165.4" y2="1414" class="ax"/>
<text x="140" y="1422.4" text-anchor="end" class="tk" style="font-size:29.5px">10.0</text>
<line x1="157.4" y1="1316.5" x2="165.4" y2="1316.5" class="ax"/>
<text x="140" y="1324.9" text-anchor="end" class="tk" style="font-size:29.5px">15.0</text>
<line x1="157.4" y1="1219" x2="165.4" y2="1219" class="ax"/>
<text x="140" y="1227.4" text-anchor="end" class="tk" style="font-size:29.5px">20.0</text>
<line x1="157.4" y1="1609" x2="707.2" y2="1609" class="ax"/>
<line x1="165.4" y1="1609" x2="165.4" y2="1617" class="ax"/>
<line x1="255.7" y1="1609" x2="255.7" y2="1617" class="ax"/>
<line x1="346" y1="1609" x2="346" y2="1617" class="ax"/>
<line x1="436.3" y1="1609" x2="436.3" y2="1617" class="ax"/>
<line x1="526.6" y1="1609" x2="526.6" y2="1617" class="ax"/>
<line x1="616.9" y1="1609" x2="616.9" y2="1617" class="ax"/>
<line x1="707.2" y1="1609" x2="707.2" y2="1617" class="ax"/>
<text x="218.55" y="1649" text-anchor="end" transform="rotate(-45 218.55 1649)" class="xl" style="font-size:30.2px">start</text>
<text x="308.85" y="1649" text-anchor="end" transform="rotate(-45 308.85 1649)" class="xl" style="font-size:30.2px">1 week</text>
<text x="399.15" y="1649" text-anchor="end" transform="rotate(-45 399.15 1649)" class="xl" style="font-size:30.2px">2 weeks</text>
<text x="489.45" y="1649" text-anchor="end" transform="rotate(-45 489.45 1649)" class="xl" style="font-size:30.2px">4 weeks</text>
<text x="579.75" y="1649" text-anchor="end" transform="rotate(-45 579.75 1649)" class="xl" style="font-size:30.2px">13 weeks</text>
<text x="670.05" y="1649" text-anchor="end" transform="rotate(-45 670.05 1649)" class="xl" style="font-size:30.2px">26 weeks</text>
<rect x="428.8" y="1607" width="15" height="12" fill="#fff"/>
<rect x="430.9" y="1597" width="4.2" height="28.3" fill="#000"/>
<rect x="439.4" y="1597" width="4.3" height="28.3" fill="#000"/>
<rect x="518.1" y="1607" width="15" height="12" fill="#fff"/>
<rect x="520.2" y="1597" width="4.2" height="28.3" fill="#000"/>
<rect x="528.7" y="1597" width="4.3" height="28.3" fill="#000"/>
<rect x="607.1" y="1607" width="15" height="12" fill="#fff"/>
<rect x="609.2" y="1597" width="4.2" height="28.3" fill="#000"/>
<rect x="617.7" y="1597" width="4.3" height="28.3" fill="#000"/>
<text x="46" y="1414.4" text-anchor="middle" transform="rotate(-90 46 1414.4)" class="yt" style="font-size:31.8px">GDP concentration [µM]</text>
<text x="8" y="1177" class="pl">e</text>
<line x1="210.55" y1="1507.6" x2="210.55" y2="1511.5" stroke="#444" stroke-width="1.5"/>
<line x1="204.55" y1="1507.6" x2="216.55" y2="1507.6" stroke="#444" stroke-width="1.5"/>
<line x1="204.55" y1="1511.5" x2="216.55" y2="1511.5" stroke="#444" stroke-width="1.5"/>
<line x1="300.85" y1="1504.67" x2="300.85" y2="1508.58" stroke="#444" stroke-width="1.5"/>
<line x1="294.85" y1="1504.67" x2="306.85" y2="1504.67" stroke="#444" stroke-width="1.5"/>
<line x1="294.85" y1="1508.58" x2="306.85" y2="1508.58" stroke="#444" stroke-width="1.5"/>
<line x1="391.15" y1="1469.58" x2="391.15" y2="1501.56" stroke="#444" stroke-width="1.5"/>
<line x1="385.15" y1="1469.58" x2="397.15" y2="1469.58" stroke="#444" stroke-width="1.5"/>
<line x1="385.15" y1="1501.56" x2="397.15" y2="1501.56" stroke="#444" stroke-width="1.5"/>
<line x1="481.45" y1="1456.12" x2="481.45" y2="1467.82" stroke="#444" stroke-width="1.5"/>
<line x1="475.45" y1="1456.12" x2="487.45" y2="1456.12" stroke="#444" stroke-width="1.5"/>
<line x1="475.45" y1="1467.82" x2="487.45" y2="1467.82" stroke="#444" stroke-width="1.5"/>
<line x1="571.75" y1="1345.75" x2="571.75" y2="1349.65" stroke="#444" stroke-width="1.5"/>
<line x1="565.75" y1="1345.75" x2="577.75" y2="1345.75" stroke="#444" stroke-width="1.5"/>
<line x1="565.75" y1="1349.65" x2="577.75" y2="1349.65" stroke="#444" stroke-width="1.5"/>
<line x1="662.05" y1="1267.75" x2="662.05" y2="1271.65" stroke="#444" stroke-width="1.5"/>
<line x1="656.05" y1="1267.75" x2="668.05" y2="1267.75" stroke="#444" stroke-width="1.5"/>
<line x1="656.05" y1="1271.65" x2="668.05" y2="1271.65" stroke="#444" stroke-width="1.5"/>
<polyline points="210.55,1509.55 300.85,1506.62 391.15,1485.57 481.45,1461.97 571.75,1347.7 662.05,1269.7" fill="none" stroke="#000" stroke-width="3" stroke-linejoin="round"/>
<rect x="203.05" y="1502.05" width="15" height="15" fill="#000"/>
<rect x="293.35" y="1499.12" width="15" height="15" fill="#000"/>
<rect x="383.65" y="1478.07" width="15" height="15" fill="#000"/>
<rect x="473.95" y="1454.47" width="15" height="15" fill="#000"/>
<rect x="564.25" y="1340.2" width="15" height="15" fill="#000"/>
<rect x="654.55" y="1262.2" width="15" height="15" fill="#000"/>
<text x="447.9" y="1272.5" text-anchor="start" class="t">formaldehyde</text>
<polygon points="888.5,1605.4 956.7,1605.47 1024.9,1605.33 1093.1,1606.5 1161.3,1608.17 1229.5,1608.84 1229.5,1611 1161.3,1611 1093.1,1611 1024.9,1611 956.7,1611 888.5,1611" fill="#67206d"/>
<polygon points="888.5,1601.79 956.7,1601.76 1024.9,1600.85 1093.1,1601.16 1161.3,1598.67 1229.5,1596.51 1229.5,1608.84 1161.3,1608.17 1093.1,1606.5 1024.9,1605.33 956.7,1605.47 888.5,1605.4" fill="#9f71a2"/>
<polygon points="888.5,1594.14 956.7,1580.01 1024.9,1579.25 1093.1,1582.39 1161.3,1584.65 1229.5,1585.11 1229.5,1596.51 1161.3,1598.67 1093.1,1601.16 1024.9,1600.85 956.7,1601.76 888.5,1601.79" fill="#bd74a6"/>
<polygon points="888.5,1587.62 956.7,1571.09 1024.9,1566.99 1093.1,1565.18 1161.3,1557.38 1229.5,1555.79 1229.5,1585.11 1161.3,1584.65 1093.1,1582.39 1024.9,1579.25 956.7,1580.01 888.5,1594.14" fill="#9797bf"/>
<polygon points="888.5,1466.78 956.7,1463.56 1024.9,1463.36 1093.1,1477.27 1161.3,1483.78 1229.5,1493.03 1229.5,1555.79 1161.3,1557.38 1093.1,1565.18 1024.9,1566.99 956.7,1571.09 888.5,1587.62" fill="#8eaac1"/>
<polygon points="888.5,1376.75 956.7,1396.48 1024.9,1395.5 1093.1,1417.99 1161.3,1435.19 1229.5,1453.71 1229.5,1493.03 1161.3,1483.78 1093.1,1477.27 1024.9,1463.36 956.7,1463.56 888.5,1466.78" fill="#83bfbb"/>
<polygon points="888.5,1284.81 956.7,1305.32 1024.9,1300.59 1093.1,1313.72 1161.3,1322.57 1229.5,1374.38 1229.5,1453.71 1161.3,1435.19 1093.1,1417.99 1024.9,1395.5 956.7,1396.48 888.5,1376.75" fill="#91d5b0"/>
<polygon points="888.5,1267.32 956.7,1288.04 1024.9,1282.81 1093.1,1295.52 1161.3,1310.38 1229.5,1365.95 1229.5,1374.38 1161.3,1322.57 1093.1,1313.72 1024.9,1300.59 956.7,1305.32 888.5,1284.81" fill="#b6e18a"/>
<polygon points="888.5,1259.53 956.7,1273.94 1024.9,1264.89 1093.1,1272.07 1161.3,1245.22 1229.5,1243.55 1229.5,1365.95 1161.3,1310.38 1093.1,1295.52 1024.9,1282.81 956.7,1288.04 888.5,1267.32" fill="#fcee8a"/>
<polyline points="888.5,1605.4 956.7,1605.47 1024.9,1605.33 1093.1,1606.5 1161.3,1608.17 1229.5,1608.84" fill="none" stroke="#fff" stroke-opacity="0.85" stroke-width="2.5"/>
<polyline points="888.5,1601.79 956.7,1601.76 1024.9,1600.85 1093.1,1601.16 1161.3,1598.67 1229.5,1596.51" fill="none" stroke="#fff" stroke-opacity="0.85" stroke-width="2.5"/>
<polyline points="888.5,1594.14 956.7,1580.01 1024.9,1579.25 1093.1,1582.39 1161.3,1584.65 1229.5,1585.11" fill="none" stroke="#fff" stroke-opacity="0.85" stroke-width="2.5"/>
<polyline points="888.5,1587.62 956.7,1571.09 1024.9,1566.99 1093.1,1565.18 1161.3,1557.38 1229.5,1555.79" fill="none" stroke="#fff" stroke-opacity="0.85" stroke-width="2.5"/>
<polyline points="888.5,1466.78 956.7,1463.56 1024.9,1463.36 1093.1,1477.27 1161.3,1483.78 1229.5,1493.03" fill="none" stroke="#fff" stroke-opacity="0.85" stroke-width="2.5"/>
<polyline points="888.5,1376.75 956.7,1396.48 1024.9,1395.5 1093.1,1417.99 1161.3,1435.19 1229.5,1453.71" fill="none" stroke="#fff" stroke-opacity="0.85" stroke-width="2.5"/>
<polyline points="888.5,1284.81 956.7,1305.32 1024.9,1300.59 1093.1,1313.72 1161.3,1322.57 1229.5,1374.38" fill="none" stroke="#fff" stroke-opacity="0.85" stroke-width="2.5"/>
<polyline points="888.5,1267.32 956.7,1288.04 1024.9,1282.81 1093.1,1295.52 1161.3,1310.38 1229.5,1365.95" fill="none" stroke="#fff" stroke-opacity="0.85" stroke-width="2.5"/>
<line x1="888.5" y1="1186" x2="888.5" y2="1619" class="ax"/>
<line x1="880.5" y1="1611" x2="888.5" y2="1611" class="ax"/>
<text x="864" y="1619.4" text-anchor="end" class="tk" style="font-size:29px">0.0</text>
<line x1="880.5" y1="1540.17" x2="888.5" y2="1540.17" class="ax"/>
<text x="864" y="1548.57" text-anchor="end" class="tk" style="font-size:29px">100.0</text>
<line x1="880.5" y1="1469.33" x2="888.5" y2="1469.33" class="ax"/>
<text x="864" y="1477.73" text-anchor="end" class="tk" style="font-size:29px">200.0</text>
<line x1="880.5" y1="1398.5" x2="888.5" y2="1398.5" class="ax"/>
<text x="864" y="1406.9" text-anchor="end" class="tk" style="font-size:29px">300.0</text>
<line x1="880.5" y1="1327.67" x2="888.5" y2="1327.67" class="ax"/>
<text x="864" y="1336.07" text-anchor="end" class="tk" style="font-size:29px">400.0</text>
<line x1="880.5" y1="1256.83" x2="888.5" y2="1256.83" class="ax"/>
<text x="864" y="1265.23" text-anchor="end" class="tk" style="font-size:29px">500.0</text>
<line x1="880.5" y1="1186" x2="888.5" y2="1186" class="ax"/>
<text x="864" y="1194.4" text-anchor="end" class="tk" style="font-size:29px">600.0</text>
<line x1="880.5" y1="1611" x2="1229.5" y2="1611" class="ax"/>
<line x1="888.5" y1="1611" x2="888.5" y2="1619" class="ax"/>
<line x1="956.7" y1="1611" x2="956.7" y2="1619" class="ax"/>
<line x1="1024.9" y1="1611" x2="1024.9" y2="1619" class="ax"/>
<line x1="1093.1" y1="1611" x2="1093.1" y2="1619" class="ax"/>
<line x1="1161.3" y1="1611" x2="1161.3" y2="1619" class="ax"/>
<line x1="1229.5" y1="1611" x2="1229.5" y2="1619" class="ax"/>
<text x="896" y="1647" text-anchor="end" transform="rotate(-45 896 1647)" class="xl" style="font-size:29.3px">start</text>
<text x="964.2" y="1647" text-anchor="end" transform="rotate(-45 964.2 1647)" class="xl" style="font-size:29.3px">1 week</text>
<text x="1032.4" y="1647" text-anchor="end" transform="rotate(-45 1032.4 1647)" class="xl" style="font-size:29.3px">2 weeks</text>
<text x="1100.6" y="1647" text-anchor="end" transform="rotate(-45 1100.6 1647)" class="xl" style="font-size:29.3px">4 weeks</text>
<text x="1168.8" y="1647" text-anchor="end" transform="rotate(-45 1168.8 1647)" class="xl" style="font-size:29.3px">13 weeks</text>
<text x="1237" y="1647" text-anchor="end" transform="rotate(-45 1237 1647)" class="xl" style="font-size:29.3px">26 weeks</text>
<text x="771.4" y="1407.6" text-anchor="middle" transform="rotate(-90 771.4 1407.6)" class="yt" style="font-size:28.85px">GDP concentration [µM]</text>
<text x="717" y="1179" class="pl">f</text>
<rect x="1057.5" y="1608.5" width="7" height="5" fill="#fff"/>
<rect x="1128" y="1608.5" width="8" height="5" fill="#fff"/>
<rect x="1192" y="1608.5" width="8" height="5" fill="#fff"/>
<rect x="1281.4" y="1214.3" width="13.2" height="13.2" fill="#fcee8a" stroke="#000" stroke-opacity="0.22" stroke-width="1"/>
<text x="1301" y="1229.7" class="lg">5-HMF</text>
<rect x="1281.4" y="1263.6" width="13.2" height="13.2" fill="#b6e18a" stroke="#000" stroke-opacity="0.22" stroke-width="1"/>
<text x="1301" y="1279" class="lg">glucosone</text>
<rect x="1281.4" y="1312.9" width="13.2" height="13.2" fill="#91d5b0" stroke="#000" stroke-opacity="0.22" stroke-width="1"/>
<text x="1301" y="1328.3" class="lg">acetaldehyde</text>
<rect x="1281.4" y="1362.2" width="13.2" height="13.2" fill="#83bfbb" stroke="#000" stroke-opacity="0.22" stroke-width="1"/>
<text x="1301" y="1377.6" class="lg">3-DGal</text>
<rect x="1281.4" y="1411.5" width="13.2" height="13.2" fill="#8eaac1" stroke="#000" stroke-opacity="0.22" stroke-width="1"/>
<text x="1301" y="1426.9" class="lg">3-DG</text>
<rect x="1281.4" y="1460.8" width="13.2" height="13.2" fill="#9797bf" stroke="#000" stroke-opacity="0.22" stroke-width="1"/>
<text x="1301" y="1476.2" class="lg">glyoxal</text>
<rect x="1281.4" y="1510.1" width="13.2" height="13.2" fill="#bd74a6" stroke="#000" stroke-opacity="0.22" stroke-width="1"/>
<text x="1301" y="1525.5" class="lg">3,4-DGE</text>
<rect x="1281.4" y="1559.4" width="13.2" height="13.2" fill="#9f71a2" stroke="#000" stroke-opacity="0.22" stroke-width="1"/>
<text x="1301" y="1574.8" class="lg">formaldehyde</text>
<rect x="1281.4" y="1608.7" width="13.2" height="13.2" fill="#67206d" stroke="#000" stroke-opacity="0.22" stroke-width="1"/>
<text x="1301" y="1624.1" class="lg">MGO</text>
</svg>
</body></html>
